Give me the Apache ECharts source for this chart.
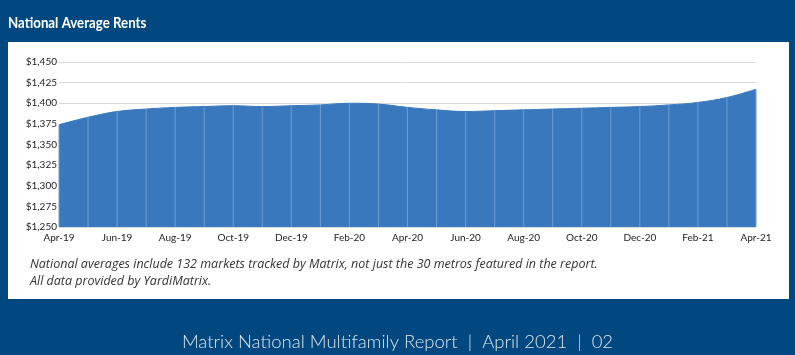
<!DOCTYPE html>
<html>
<head>
<meta charset="utf-8">
<script src="https://cdn.jsdelivr.net/npm/echarts@6/dist/echarts.min.js"></script>
<style>
html,body{margin:0;padding:0;background:#00487F;}
#c{width:795px;height:355px;}
</style>
</head>
<body>
<div id="c"></div>
<script>
const titleText = "National Average Rents";
const noteLines = [
  "National averages include 132 markets tracked by Matrix, not just the 30 metros featured in the report.",
  "All data provided by YardiMatrix."
];
const footerText = "Matrix National Multifamily Report  |  April 2021  |  02";
const months = ["Apr-19","May-19","Jun-19","Jul-19","Aug-19","Sep-19","Oct-19","Nov-19","Dec-19",
  "Jan-20","Feb-20","Mar-20","Apr-20","May-20","Jun-20","Jul-20","Aug-20","Sep-20","Oct-20","Nov-20","Dec-20",
  "Jan-21","Feb-21","Mar-21","Apr-21"];
const rents = [1374,1383,1390,1393,1395,1396,1397,1396,1397,
  1398,1400,1399,1395,1392,1390,1391,1392,1393,1394,1395,1396,
  1398,1401,1407,1417];
const yMin = 1250, yMax = 1450, yStep = 25;

const chart = echarts.init(document.getElementById('c'), null, {renderer:'canvas'});
const fam = 'Lato, "Open Sans", sans-serif';
chart.setOption({
  backgroundColor:'#00487F',
  animation:false,
  graphic:[
    {type:'rect', z:-10, shape:{x:8,y:42,width:781,height:257}, style:{fill:'#ffffff'}},
    {type:'text', x:8, y:15, scaleX:0.83, style:{text:titleText, fill:'#ffffff', font:'bold 16px Lato, sans-serif'}},
    {type:'text', left:30, top:258, style:{text:noteLines[0], fill:'#333333', font:'italic 12.5px "Open Sans", sans-serif'}},
    {type:'text', left:30, top:275, style:{text:noteLines[1], fill:'#333333', font:'italic 12.5px "Open Sans", sans-serif'}},
    {type:'text', left:'center', top:333, style:{text:footerText, fill:'#dce4ee', font:'300 18.5px '+fam}}
  ],
  grid:{left:59, right:39, top:62, bottom:128, containLabel:false},
  xAxis:{
    type:'category', data:months, boundaryGap:false,
    axisLine:{show:false}, axisTick:{show:false},
    axisLabel:{interval:1, color:'#222', fontSize:10, fontFamily:fam, margin:6},
    splitLine:{show:false}
  },
  yAxis:{
    type:'value', min:yMin, max:yMax, interval:yStep,
    axisLine:{show:false}, axisTick:{show:false},
    axisLabel:{color:'#222', fontSize:10, fontFamily:fam, margin:2,
      formatter:v=>'$'+v.toLocaleString('en-US')},
    splitLine:{lineStyle:{color:'#d9d9d9', width:1}}
  },
  series:[
    {type:'line', data:rents, smooth:0.4, showSymbol:false, z:2,
      lineStyle:{color:'#3A78BD', width:1},
      areaStyle:{color:'#3A78BD', opacity:1}},
    {type:'bar', data:rents, barWidth:1, z:3, itemStyle:{color:'#6c9dd4'}, silent:true}
  ]
});
</script>
</body>
</html>
